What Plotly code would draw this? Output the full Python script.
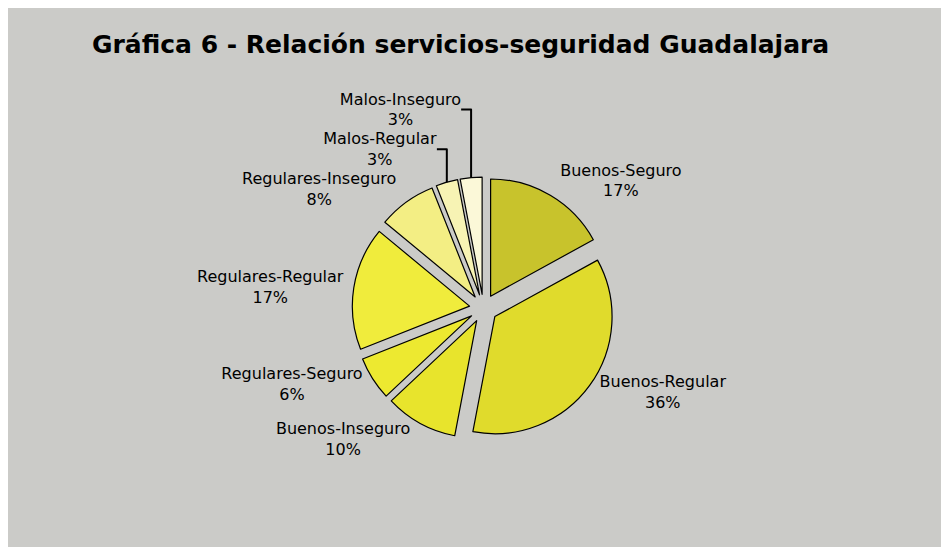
import plotly.graph_objects as go

labels = ["Buenos-Seguro", "Buenos-Regular", "Buenos-Inseguro", "Regulares-Seguro",
          "Regulares-Regular", "Regulares-Inseguro", "Malos-Regular", "Malos-Inseguro"]
values = [17, 36, 10, 6, 17, 8, 3, 3]
colors = ["#C8C32C", "#E0DB2C", "#E8E42C", "#EDE930", "#F0EC3C", "#F3EE84", "#F7F3B4", "#FBF8D8"]
title_text = "Gráfica 6 - Relación servicios-seguridad Guadalajara"

W, H = 949, 547
fig = go.Figure(go.Pie(
    labels=labels, values=values, sort=False, direction="clockwise", rotation=0,
    pull=[0.12] * len(values), automargin=False,
    marker=dict(colors=colors, line=dict(color="black", width=1.2)),
    textposition="outside", texttemplate="%{label}<br>%{percent:.0%}",
    textfont=dict(family="DejaVu Sans", size=16, color="black"),
    showlegend=False, hoverinfo="label+percent",
    domain=dict(x=[0.291, 0.711], y=[0.211, 0.691]),
))
fig.update_layout(
    width=W, height=H, autosize=False,
    margin=dict(l=0, r=0, t=0, b=0, pad=0, autoexpand=False),
    paper_bgcolor="#CBCBC8",
    title=dict(text=title_text, x=84 / W, xanchor="left", y=1 - 36 / H, yanchor="middle",
               xref="container", yref="container",
               font=dict(family="DejaVu Sans", size=25, color="black", weight="bold")),
)
fig.write_html("out.html")
